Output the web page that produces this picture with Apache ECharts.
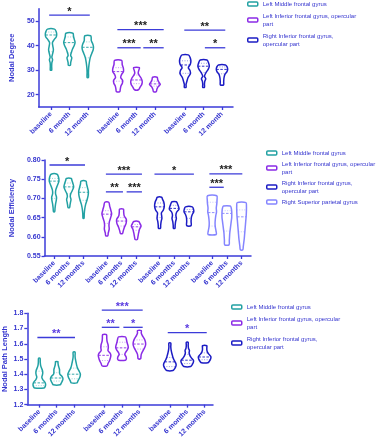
<!DOCTYPE html>
<html>
<head>
<meta charset="utf-8">
<script src="https://cdn.jsdelivr.net/npm/echarts@6/dist/echarts.min.js"></script>
<style>
  html, body { margin: 0; padding: 0; background: #fff; }
  #chart { width: 376px; height: 440px; }
</style>
</head>
<body>
<div id="chart"></div>
<script>
// ---- data ----
const regionNames = [
  'Left Middle frontal gyrus',
  'Left Inferior frontal gyrus, opercular part',
  'Right Inferior frontal gyrus, opercular part',
  'Right Superior parietal gyrus'
];

// Nodal Degree
const degreeLabels = ['baseline', '6 month', '12 month'];
const degreePos = [1, 2, 3, 4.65, 5.65, 6.65, 8.3, 9.3, 10.3];
const degreeMedian = [44.3, 41.2, 39.3, 29.4, 26.0, 24.4, 32.1, 31.6, 30.3];
const degreeQ1 = [37.5, 37.0, 35.0, 25.5, 24.5, 23.5, 28.7, 29.0, 28.5];
const degreeQ3 = [45.5, 43.5, 41.5, 31.0, 28.0, 25.5, 33.8, 32.8, 31.3];
const degreeProfiles = [
  [[30,0.12],[31.5,0.12],[33,0.15],[34.2,0.28],[35.3,0.15],[36.8,0.3],[38.3,0.42],[39.8,0.32],[41.2,0.25],[42.4,0.55],[43.5,0.92],[44.6,1],[45.7,0.9],[46.7,0.62]],
  [[32,0.18],[33,0.22],[34,0.32],[35,0.42],[36,0.22],[37.2,0.35],[38.6,0.55],[40,0.85],[41.3,1],[42.6,0.85],[43.8,0.72],[45,0.62]],
  [[27,0.12],[29,0.12],[31,0.16],[33,0.26],[35,0.42],[36.8,0.7],[38.3,0.95],[39.5,1],[40.8,0.85],[42,0.62],[43.2,0.6],[44,0.52]],
  [[21.3,0.3],[22.3,0.38],[23.5,0.5],[24.7,0.75],[25.8,0.8],[27,0.45],[28.2,0.6],[29.4,0.95],[30.8,0.92],[32.3,0.72],[34,0.62]],
  [[22,0.35],[23,0.62],[24.3,0.95],[25.5,1],[26.8,0.8],[28,0.45],[28.8,0.3],[29.8,0.38],[31,0.52]],
  [[21.3,0.25],[22.2,0.35],[23.2,0.55],[24.2,0.95],[25.1,0.7],[26.1,0.5],[27.1,0.4]],
  [[23,0.15],[24.2,0.15],[25.5,0.3],[27,0.5],[28.5,0.9],[29.8,0.85],[31,0.55],[32.4,0.9],[33.8,1],[35.2,0.85],[36.2,0.55]],
  [[23,0.15],[24.3,0.15],[25.6,0.22],[26.5,0.38],[27.5,0.15],[28.9,0.4],[30.3,0.8],[31.6,1],[32.9,0.88],[34.1,0.6]],
  [[24,0.28],[25.3,0.3],[26.8,0.35],[28.2,0.5],[29.4,0.88],[30.4,1],[31.4,0.88],[32.1,0.62]]
];
// [x from, x to, y, stars]
const degreeSig = [
  [0.9, 3.11, 52.4, '*'],
  [4.61, 7.13, 46.5, '***'],
  [4.61, 5.88, 39.1, '***'],
  [6.02, 7.13, 39.1, '**'],
  [8.25, 10.48, 46.3, '**'],
  [9.37, 10.48, 39.1, '*']
];
const degreeTicks = [20, 30, 40, 50];

// Nodal Efficiency
const effLabels = ['baseline', '6 months', '12 months'];
const effPos = [1, 2, 3, 4.58, 5.58, 6.58, 8.16, 9.16, 10.16, 11.74, 12.74, 13.74];
const effMedian = [0.745, 0.730, 0.716, 0.659, 0.641, 0.626, 0.678, 0.674, 0.665, 0.663, 0.661, 0.652];
const effQ1 = [0.700, 0.712, 0.695, 0.635, 0.628, 0.617, 0.650, 0.650, 0.648, 0.628, 0.615, 0.613];
const effQ3 = [0.752, 0.740, 0.728, 0.668, 0.650, 0.632, 0.688, 0.682, 0.671, 0.690, 0.668, 0.670];
const effProfiles = [
  [[0.665,0.12],[0.675,0.2],[0.685,0.3],[0.695,0.45],[0.703,0.5],[0.712,0.3],[0.722,0.35],[0.733,0.65],[0.745,1],[0.755,0.92],[0.763,0.62]],
  [[0.676,0.15],[0.683,0.25],[0.69,0.35],[0.697,0.45],[0.705,0.3],[0.712,0.4],[0.72,0.7],[0.73,1],[0.74,0.82],[0.748,0.62],[0.752,0.52]],
  [[0.648,0.1],[0.66,0.15],[0.672,0.25],[0.685,0.45],[0.697,0.75],[0.708,0.95],[0.718,1],[0.728,0.82],[0.738,0.62],[0.745,0.52]],
  [[0.603,0.22],[0.61,0.3],[0.62,0.5],[0.63,0.45],[0.64,0.55],[0.65,0.8],[0.66,1],[0.67,0.82],[0.68,0.6],[0.69,0.4]],
  [[0.609,0.22],[0.615,0.35],[0.625,0.6],[0.635,0.95],[0.645,1],[0.655,0.55],[0.665,0.45],[0.672,0.4]],
  [[0.593,0.22],[0.6,0.35],[0.61,0.5],[0.62,0.7],[0.628,1],[0.635,0.75],[0.64,0.5]],
  [[0.622,0.2],[0.63,0.25],[0.64,0.35],[0.648,0.5],[0.655,0.45],[0.662,0.4],[0.67,0.8],[0.68,1],[0.69,0.9],[0.698,0.62],[0.703,0.45]],
  [[0.622,0.15],[0.63,0.2],[0.64,0.3],[0.648,0.45],[0.656,0.35],[0.664,0.5],[0.672,1],[0.68,0.85],[0.688,0.62],[0.691,0.45]],
  [[0.629,0.45],[0.64,0.45],[0.65,0.5],[0.658,0.7],[0.665,1],[0.672,0.95],[0.678,0.7]],
  [[0.606,0.85],[0.615,0.8],[0.625,0.65],[0.635,0.6],[0.645,0.65],[0.655,0.75],[0.665,0.9],[0.675,0.85],[0.685,0.95],[0.695,1],[0.707,0.95]],
  [[0.579,0.45],[0.59,0.5],[0.6,0.55],[0.61,0.6],[0.62,0.7],[0.63,0.8],[0.64,0.9],[0.65,1],[0.665,1],[0.675,0.9],[0.68,0.7]],
  [[0.566,0.25],[0.575,0.35],[0.585,0.45],[0.595,0.55],[0.61,0.65],[0.625,0.75],[0.64,0.85],[0.655,0.95],[0.67,1],[0.68,1],[0.689,0.9]]
];
const effSig = [
  [0.69, 3.10, 0.787, '*'],
  [4.52, 6.97, 0.763, '***'],
  [4.52, 5.68, 0.717, '**'],
  [5.93, 6.97, 0.717, '***'],
  [7.82, 10.50, 0.763, '*'],
  [11.55, 13.79, 0.764, '***'],
  [11.55, 12.53, 0.729, '***']
];

// Nodal Path Length
const pathLabels = ['baseline', '6 months', '12 months'];
const pathPos = [1, 2, 3, 4.75, 5.75, 6.75, 8.5, 9.5, 10.5];
const pathMedian = [1.343, 1.375, 1.400, 1.524, 1.573, 1.598, 1.481, 1.492, 1.513];
const pathQ1 = [1.325, 1.355, 1.370, 1.490, 1.530, 1.565, 1.450, 1.470, 1.495];
const pathQ3 = [1.420, 1.410, 1.440, 1.580, 1.610, 1.625, 1.510, 1.530, 1.540];
const pathProfiles = [
  [[1.31,0.75],[1.32,0.95],[1.335,1],[1.35,0.85],[1.365,0.55],[1.38,0.4],[1.395,0.5],[1.41,0.55],[1.425,0.5],[1.44,0.35],[1.46,0.2],[1.48,0.15],[1.505,0.12]],
  [[1.33,0.55],[1.34,0.7],[1.355,0.9],[1.37,1],[1.385,0.85],[1.4,0.5],[1.415,0.45],[1.43,0.45],[1.445,0.35],[1.46,0.25],[1.475,0.2],[1.482,0.2]],
  [[1.343,0.45],[1.355,0.6],[1.37,0.8],[1.385,0.95],[1.4,1],[1.42,0.8],[1.44,0.55],[1.46,0.4],[1.48,0.3],[1.5,0.2],[1.52,0.15],[1.545,0.15]],
  [[1.455,0.4],[1.47,0.55],[1.49,0.8],[1.51,0.95],[1.525,1],[1.54,0.85],[1.555,0.55],[1.575,0.6],[1.595,0.55],[1.615,0.4],[1.635,0.35],[1.66,0.3]],
  [[1.492,0.55],[1.5,0.7],[1.515,0.65],[1.53,0.45],[1.545,0.6],[1.56,0.85],[1.575,1],[1.59,0.95],[1.61,0.8],[1.63,0.7],[1.645,0.55]],
  [[1.502,0.2],[1.515,0.25],[1.53,0.3],[1.545,0.45],[1.56,0.65],[1.575,0.85],[1.595,1],[1.615,0.95],[1.635,0.75],[1.655,0.45],[1.67,0.3],[1.687,0.3]],
  [[1.424,0.5],[1.435,0.75],[1.45,0.95],[1.465,1],[1.48,0.85],[1.495,0.65],[1.51,0.5],[1.525,0.4],[1.54,0.3],[1.56,0.2],[1.58,0.15],[1.605,0.15]],
  [[1.45,0.55],[1.46,0.75],[1.475,0.95],[1.49,1],[1.505,0.7],[1.52,0.45],[1.54,0.3],[1.555,0.35],[1.57,0.2],[1.59,0.15],[1.609,0.15]],
  [[1.475,0.5],[1.485,0.75],[1.5,0.95],[1.515,1],[1.53,0.7],[1.545,0.45],[1.56,0.35],[1.575,0.35],[1.587,0.35]]
];
const pathSig = [
  [0.89, 3.05, 1.641, '**'],
  [4.59, 6.94, 1.821, '***'],
  [4.59, 5.60, 1.708, '**'],
  [5.83, 6.94, 1.708, '*'],
  [8.38, 10.62, 1.673, '*']
];

// ---- styling ----
const FONT = 'Arial, "Liberation Sans", sans-serif';
const AXIS = '#3b3bd9';
const TEXT = '#3535cf';
const colors = ['#22a1a3', '#8a2be6', '#1c1cc4', '#8585ff'];
const wrapped = {
  'Left Inferior frontal gyrus, opercular part': 'Left Inferior frontal gyrus, opercular\npart',
  'Right Inferior frontal gyrus, opercular part': 'Right Inferior frontal gyrus,\nopercular part'
};

function widthAt(profile, v) {
  if (v <= profile[0][0]) return profile[0][1];
  for (let i = 1; i < profile.length; i++) {
    if (v <= profile[i][0]) {
      const a = profile[i - 1], b = profile[i];
      return a[1] + (b[1] - a[1]) * (v - a[0]) / (b[0] - a[0]);
    }
  }
  return profile[profile.length - 1][1];
}

function violinRender(profiles, medians, q1s, q3s, half, color) {
  return function (params, api) {
    const x = api.value(0), k = api.value(1);
    const prof = profiles[k];
    const right = prof.map(p => api.coord([x + p[1] * half, p[0]]));
    const left = prof.slice().reverse().map(p => api.coord([x - p[1] * half, p[0]]));
    const hline = (v, dash, opacity) => {
      const w = widthAt(prof, v) * half;
      const a = api.coord([x - w, v]), b = api.coord([x + w, v]);
      return {
        type: 'line',
        shape: {x1: a[0], y1: a[1], x2: b[0], y2: b[1]},
        style: {stroke: color, lineWidth: 1, lineDash: dash, opacity: opacity}
      };
    };
    return {
      type: 'group',
      children: [
        {
          type: 'polygon',
          shape: {points: right.concat(left), smooth: 0.3},
          style: {fill: '#fff', stroke: color, lineWidth: 1.5}
        },
        hline(q1s[k], [1, 1.5], 0.45),
        hline(q3s[k], [1, 1.5], 0.45),
        hline(medians[k], [2.5, 1.5], 0.9)
      ]
    };
  };
}

function sigRender(bars, starColor) {
  return function (params, api) {
    const b = bars[params.dataIndex];
    const p1 = api.coord([b[0], b[2]]), p2 = api.coord([b[1], b[2]]);
    return {
      type: 'group',
      children: [
        {type: 'line', shape: {x1: p1[0], y1: p1[1], x2: p2[0], y2: p2[1]}, style: {stroke: AXIS, lineWidth: 1.3}},
        {
          type: 'text', x: (p1[0] + p2[0]) / 2, y: p1[1] + 2,
          style: {text: b[3], align: 'center', verticalAlign: 'bottom', font: 'bold 11px ' + FONT, fill: starColor}
        }
      ]
    };
  };
}

// build one panel: violins per region (3 per region) + significance bars
function panelSeries(idx, pos, profiles, medians, q1s, q3s, sig, half, nRegions, starColor) {
  const out = [];
  for (let r = 0; r < nRegions; r++) {
    const data = [0, 1, 2].map(j => [pos[r * 3 + j], r * 3 + j]);
    out.push({
      type: 'custom', name: regionNames[r], xAxisIndex: idx, yAxisIndex: idx,
      itemStyle: {color: colors[r]},
      renderItem: violinRender(profiles, medians, q1s, q3s, half, colors[r]),
      data: data, clip: false, silent: true
    });
  }
  out.push({
    type: 'custom', name: 'sig' + idx, xAxisIndex: idx, yAxisIndex: idx,
    renderItem: sigRender(sig, starColor),
    data: sig.map(s => [s[0], s[2]]), clip: false, silent: true
  });
  return out;
}

function xAxisFor(idx, pos, labels, min, max) {
  return {
    type: 'value', gridIndex: idx, min: min, max: max,
    axisLine: {onZero: false, lineStyle: {color: AXIS, width: 1.5}},
    splitLine: {show: false},
    axisTick: {customValues: pos, length: 3, lineStyle: {color: AXIS, width: 1.3}},
    axisLabel: {
      customValues: pos, rotate: 45, margin: 6,
      formatter: v => labels[pos.findIndex(p => Math.abs(p - v) < 1e-6) % 3],
      fontSize: 7, fontWeight: 'bold', color: TEXT, fontFamily: FONT
    }
  };
}

function yAxisFor(idx, min, max, name, nameGap, extra) {
  return Object.assign({
    type: 'value', gridIndex: idx, min: min, max: max,
    name: name, nameLocation: 'middle', nameGap: nameGap,
    nameTextStyle: {fontSize: 7.5, fontWeight: 'bold', color: TEXT, fontFamily: FONT},
    axisLine: {show: true, lineStyle: {color: AXIS, width: 1.5}},
    splitLine: {show: false},
    axisTick: {show: true, length: 3, lineStyle: {color: AXIS, width: 1.3}},
    axisLabel: {fontSize: 7, fontWeight: 'bold', color: TEXT, fontFamily: FONT, margin: 4}
  }, extra);
}

function legendFor(left, top, n, gap) {
  return {
    orient: 'vertical', left: left, top: top, itemGap: gap,
    itemWidth: 10, itemHeight: 4, icon: 'roundRect', selectedMode: false,
    data: regionNames.slice(0, n).map((nm, i) => ({
      name: nm, itemStyle: {color: '#fff', borderColor: colors[i], borderWidth: 1.5}
    })),
    formatter: nm => wrapped[nm] || nm,
    textStyle: {fontSize: 6, lineHeight: 8, color: TEXT, fontFamily: FONT}
  };
}

const chart = echarts.init(document.getElementById('chart'), null, {renderer: 'canvas'});

chart.setOption({
  animation: false,
  backgroundColor: '#fff',
  grid: [
    {left: 28.5, top: 8.7, width: 204.5, height: 98.3},
    {left: 28.3, top: 160, width: 222.7, height: 96},
    {left: 27.3, top: 313.3, width: 185.7, height: 94.4}
  ],
  xAxis: [
    xAxisFor(0, degreePos, degreeLabels, 0.33, 10.9),
    xAxisFor(1, effPos, effLabels, 0.35, 14.38),
    xAxisFor(2, pathPos, pathLabels, 0.31, 10.98)
  ],
  yAxis: [
    yAxisFor(0, 15, 55, 'Nodal Degree', 19, {
      axisTick: {show: true, customValues: degreeTicks, length: 3, lineStyle: {color: AXIS, width: 1.3}},
      axisLabel: {customValues: degreeTicks, fontSize: 7, fontWeight: 'bold', color: TEXT, fontFamily: FONT, margin: 4}
    }),
    yAxisFor(1, 0.55, 0.8, 'Nodal Efficiency', 24, {
      interval: 0.05,
      axisLabel: {fontSize: 7, fontWeight: 'bold', color: TEXT, fontFamily: FONT, margin: 4, formatter: v => v.toFixed(2)}
    }),
    yAxisFor(2, 1.2, 1.8, 'Nodal Path Length', 18, {
      interval: 0.1,
      axisLabel: {fontSize: 7, fontWeight: 'bold', color: TEXT, fontFamily: FONT, margin: 4, formatter: v => v.toFixed(1)}
    })
  ],
  legend: [
    legendFor(242, -5, 3, 4),
    legendFor(261, 144, 4, 3),
    legendFor(226, 298, 3, 4)
  ],
  series: [].concat(
    panelSeries(0, degreePos, degreeProfiles, degreeMedian, degreeQ1, degreeQ3, degreeSig, 0.31, 3, '#222'),
    panelSeries(1, effPos, effProfiles, effMedian, effQ1, effQ3, effSig, 0.33, 4, '#222'),
    panelSeries(2, pathPos, pathProfiles, pathMedian, pathQ1, pathQ3, pathSig, 0.36, 3, '#5a3be0')
  )
});
</script>
</body>
</html>
